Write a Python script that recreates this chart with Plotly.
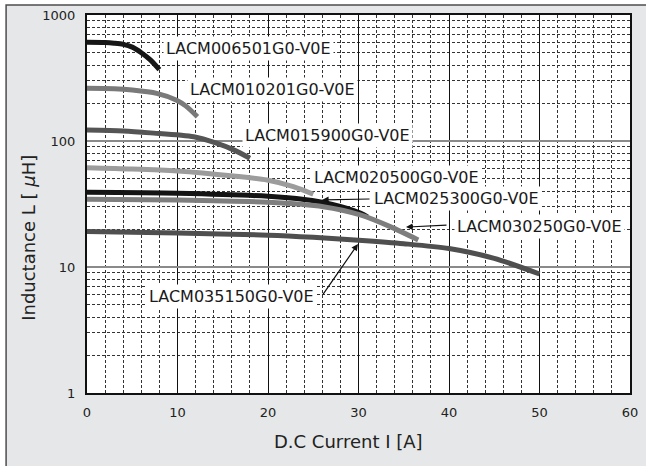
import math
import plotly.graph_objects as go

# ---- data ----
names = ["LACM006501G0-V0E", "LACM010201G0-V0E", "LACM015900G0-V0E",
         "LACM020500G0-V0E", "LACM025300G0-V0E", "LACM030250G0-V0E",
         "LACM035150G0-V0E"]

x_006501 = [0, 2, 3, 4, 5, 6, 7, 8]
y_006501 = [607, 604, 597, 585, 556, 502, 440, 368]

x_010201 = [0, 3, 5, 7.7, 9.9, 10.9, 12.2]
y_010201 = [262, 260, 254, 239, 211, 190, 156]

x_015900 = [0, 4, 7, 11.8, 14.3, 16.2, 18]
y_015900 = [122, 120, 116, 108, 96, 85, 73]

x_020500 = [0, 5, 10, 16.2, 19.9, 22.8, 25]
y_020500 = [61.4, 60, 57.8, 52.7, 49, 43.4, 37.8]

x_025300 = [0, 10, 20, 24, 27, 30.2, 31]
y_025300 = [39.2, 38.5, 36.4, 34.3, 31.5, 26.8, 25.0]

x_030250 = [0, 10, 20, 26.1, 30.2, 33.5, 36.6]
y_030250 = [34.5, 34.0, 32.6, 30.1, 25.9, 20.9, 16.4]

x_035150 = [0, 10, 20, 25, 30, 35, 40, 45, 50]
y_035150 = [19.1, 18.6, 17.9, 17.2, 16.3, 15.3, 14.0, 11.7, 8.8]

x_ticks = [0, 10, 20, 30, 40, 50, 60]
y_ticks = [1, 10, 100, 1000]
y_tick_text = ["1", "10", "100", "1000"]

# ---- styles ----
series = [(x_006501, y_006501), (x_010201, y_010201), (x_015900, y_015900),
          (x_020500, y_020500), (x_025300, y_025300), (x_030250, y_030250),
          (x_035150, y_035150)]
series_colors = ["#161616", "#7a7a7a", "#555555", "#9c9c9c", "#141414", "#7e7e7e", "#4f4f4f"]

FONT = "DejaVu Sans"

fig = go.Figure()
for (xs, ys), c, n in zip(series, series_colors, names):
    fig.add_trace(go.Scatter(x=xs, y=ys, mode="lines", name=n,
                             line=dict(color=c, width=5, shape="spline", smoothing=0.8),
                             showlegend=False, hoverinfo="skip"))

# label positions (data coords; y in log10)
label_pos = [(17.85, 2.736), (20.5, 2.405), (26.57, 2.042), (34.25, 1.714),
             (40.83, 1.540), (50.0, 1.325), (15.97, 0.762)]
annotations = []
for n, (lx, ly) in zip(names, label_pos):
    annotations.append(dict(x=lx, y=ly, xref="x", yref="y", text=n, showarrow=False,
                            xanchor="center", yanchor="middle",
                            font=dict(family=FONT, size=16, color="#1a1a1a"),
                            bgcolor="white", borderpad=2))

# arrows: (head x, head log-y, ax, ay)
arrows = [(25.97, 1.532, 49, -1), (35.25, 1.317, 42, -2), (29.94, 1.183, -36, 52)]
for hx, hy, ax, ay in arrows:
    annotations.append(dict(x=hx, y=hy, xref="x", yref="y", text="", showarrow=True,
                            ax=ax, ay=ay, arrowhead=2, arrowsize=1.1, arrowwidth=1.2,
                            arrowcolor="#111", standoff=0, startstandoff=0))

# axis titles
annotations.append(dict(x=0.4807, y=-0.127, xref="paper", yref="paper",
                        xanchor="center", yanchor="middle",
                        text="D.C Current I [A]", showarrow=False,
                        font=dict(family=FONT, size=18, color="#222")))
annotations.append(dict(x=-0.109, y=0.41, xref="paper", yref="paper",
                        xanchor="center", yanchor="middle",
                        text="Inductance L [ <i>μ</i>H]", showarrow=False, textangle=-90,
                        font=dict(family=FONT, size=18, color="#222")))

shapes = [
    dict(type="rect", xref="paper", yref="paper", x0=-0.149, x1=1.1, y0=-0.4, y1=1.0265,
         fillcolor="#e6e7e8", line=dict(color="#4d4d4d", width=1.5), layer="below"),
    dict(type="rect", xref="paper", yref="paper", x0=0, x1=1, y0=0, y1=1,
         fillcolor="white", line=dict(width=0), layer="below"),
]

fig.update_layout(
    width=646, height=466,
    margin=dict(l=87, r=16, t=15, b=73),
    paper_bgcolor="white", plot_bgcolor="rgba(0,0,0,0)",
    annotations=annotations, shapes=shapes,
    font=dict(family=FONT, size=13, color="#222"),
)
fig.update_xaxes(range=[0, 60], tickvals=x_ticks, showgrid=True, gridcolor="#111",
                 gridwidth=1, zeroline=False, showline=True, mirror=True,
                 linecolor="#111", linewidth=2, ticks="outside", ticklen=6,
                 automargin=False,
                 tickcolor="rgba(0,0,0,0)", tickfont=dict(family=FONT, size=13, color="#222"),
                 minor=dict(dtick=2, showgrid=True, gridcolor="#333", griddash="3px,2px",
                            gridwidth=1))
fig.update_yaxes(type="log", range=[0, 3], tickvals=y_ticks, ticktext=y_tick_text,
                 showgrid=True, gridcolor="#8a8a8a", gridwidth=2, zeroline=False,
                 showline=True, mirror=True, linecolor="#111", linewidth=2,
                 ticks="outside", ticklen=7, tickcolor="rgba(0,0,0,0)",
                 automargin=False,
                 tickfont=dict(family=FONT, size=13, color="#222"),
                 minor=dict(dtick="D1", showgrid=True, gridcolor="#333",
                            griddash="3px,2px", gridwidth=1))

fig.write_html("out.html", config={"displayModeBar": False},
               post_script="document.body.style.margin='0';document.body.style.overflow='hidden';")
